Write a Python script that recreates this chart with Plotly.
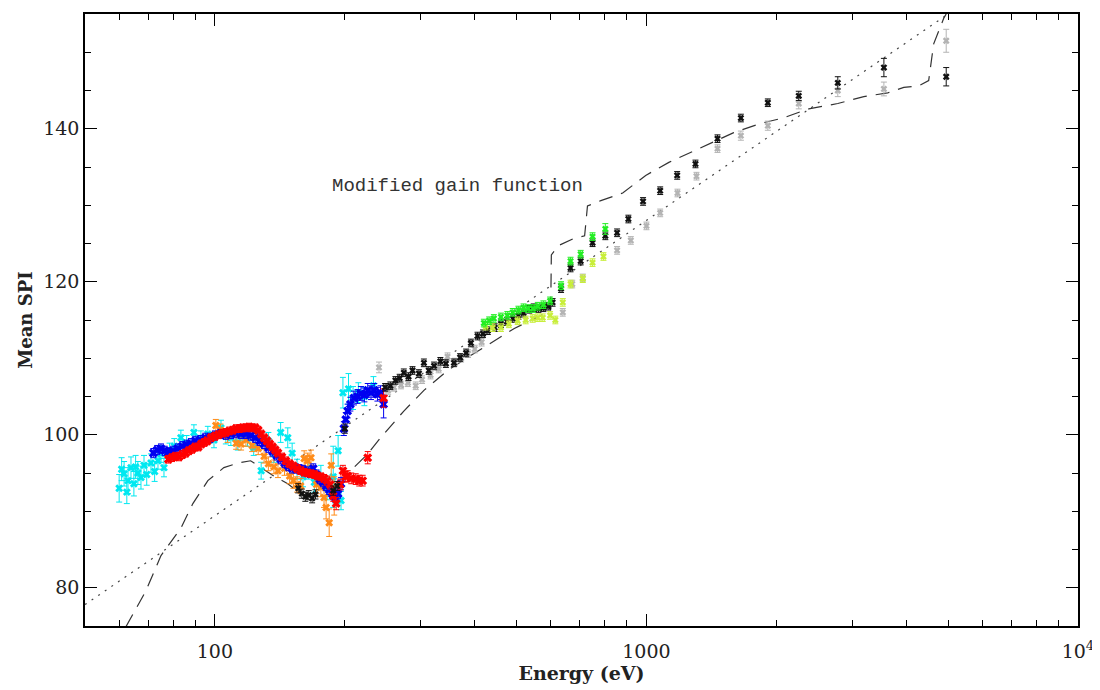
import plotly.graph_objects as go

# ---------------- data ----------------
# dotted reference line (linear in log E)
dot_E = [50, 5000]
dot_SPI = [77.8, 155.0]

# dashed "modified gain function"
gain_E = [62.2, 69.2, 75.0, 83.4, 88.9, 96.3, 104.9, 113, 121, 127.8, 137, 147.5, 158, 174, 191, 203,
          226, 242, 274, 305, 346, 385, 443, 494, 585, 600, 602, 624, 675, 719, 730, 784, 881, 996,
          1127, 1288, 1388, 1593, 1840, 2070, 2378, 2776, 3189, 3624, 3948, 4276, 4508, 4555, 4630,
          4890, 4950]
gain_SPI = [74.9, 79.6, 84.2, 87.8, 91.0, 94.0, 95.7, 96.3, 96.6, 95.7, 94.6, 93.6, 92.3, 91.6, 92.7,
            94.9, 97.5, 99.6, 103.1, 105.8, 108.4, 110.1, 112.3, 113.9, 115.9, 116.4, 123.5, 124.7,
            125.6, 126.0, 129.9, 130.6, 131.6, 133.9, 135.6, 137.1, 138.0, 139.5, 140.7, 141.4, 142.6,
            143.3, 144.2, 144.7, 145.4, 145.6, 146.3, 148.0, 151.1, 154.5, 155.0]

cyan_E = [60.0, 60.8, 61.6, 62.5, 62.9, 63.9, 64.9, 65.5, 66.3, 67.4, 68.5, 69.5, 71.1, 72.5, 73.8,
          75.0, 76.2, 78.5, 80.5, 83.4, 86.0, 89.4, 92.8, 96.3, 99.5, 103.3, 106.0, 108.9, 113.0,
          116.0, 119.0, 123.0, 128.0, 133.0, 137.0, 142.0, 147.5, 151.0, 155.0, 160.0, 165.0, 170.0,
          176.0, 182.0, 188.0, 193.0, 196.0, 198.0, 204.0, 209.0, 215.0, 222.0, 233.0]
cyan_SPI = [93.0, 95.5, 94.9, 92.5, 94.0, 95.7, 93.6, 95.8, 95.0, 94.4, 96.0, 94.8, 96.3, 95.2, 96.6,
            97.5, 95.7, 97.8, 98.5, 99.6, 98.9, 100.3, 99.5, 100.1, 99.3, 100.9, 99.8, 99.6, 99.0,
            100.0, 99.5, 98.3, 95.3, 99.2, 97.5, 100.3, 99.6, 97.6, 95.5, 94.5, 95.5, 93.8, 94.5,
            93.0, 94.5, 97.9, 91.4, 105.5, 106.0, 104.8, 105.5, 105.0, 106.4]
cyan_err = [1.8, 1.5, 1.6, 1.5, 1.7, 1.4, 1.6, 1.5, 1.5, 1.5, 1.3, 1.4, 1.2, 1.3, 1.1, 1.1, 1.2, 1.1,
            1.0, 1.0, 1.0, 1.0, 1.0, 1.0, 1.0, 1.0, 1.0, 1.0, 1.0, 1.0, 1.0, 1.0, 1.1, 1.1, 1.1, 1.3,
            1.3, 1.3, 1.3, 1.3, 1.3, 1.3, 1.5, 1.5, 4.0, 2.0, 1.2, 2.0, 2.0, 1.5, 1.3, 1.2, 1.2]

orange_E = [100.5, 103.0, 107.0, 112.0, 115.0, 118.0, 122.0, 126.0, 130.0, 133.0, 137.0, 140.0, 145.0,
            149.0, 152.0, 155.0, 158.0, 161.0, 164.0, 167.0, 172.0, 176.0, 179.0, 181.0, 184.0, 186.0,
            189.0]
orange_SPI = [101.2, 100.6, 99.8, 98.9, 98.8, 99.3, 98.6, 98.2, 97.2, 96.2, 95.8, 95.3, 95.6, 94.6,
              94.0, 93.5, 93.3, 96.9, 96.6, 97.0, 93.5, 93.1, 91.8, 90.5, 88.5, 96.0, 92.0]
orange_err = [0.8, 0.8, 0.8, 0.8, 0.8, 0.8, 0.8, 0.8, 0.9, 0.9, 0.9, 0.9, 0.9, 1.0, 1.0, 1.0, 1.0, 1.0,
              1.0, 1.0, 1.2, 1.2, 1.3, 1.5, 1.8, 1.5, 2.5]

blue_E = [72.0, 73.5, 75.0, 76.5, 78.0, 80.0, 82.0, 84.0, 86.0, 88.0, 90.0, 92.5, 95.0, 97.5, 100.0,
          103.0, 106.0, 109.0, 112.0, 115.0, 118.0, 121.0, 124.0, 127.0, 130.0, 133.0, 136.0, 139.0,
          142.0, 145.0, 148.0, 151.0, 154.0, 157.0, 160.0, 163.0, 166.0, 169.0, 172.0, 175.0, 178.0,
          181.0, 184.0, 187.0, 190.0, 193.0, 196.0, 199.0, 201.0, 203.0, 206.0, 210.0, 214.0, 218.0,
          222.0, 226.0, 230.0, 234.0, 238.0, 242.0, 246.0]
blue_SPI = [97.6, 98.0, 98.2, 97.9, 97.7, 97.9, 98.2, 98.5, 98.7, 98.9, 99.2, 99.3, 99.6, 99.6, 99.9,
            100.1, 100.0, 100.1, 100.2, 100.1, 100.1, 99.9, 99.6, 99.2, 98.8, 98.3, 97.8, 97.3, 96.8,
            96.3, 95.9, 95.6, 95.6, 95.5, 95.4, 95.2, 95.0, 95.6, 94.8, 94.2, 93.8, 93.3, 92.8, 92.3,
            91.8, 92.3, 93.6, 100.8, 102.0, 103.1, 104.0, 104.8, 105.0, 105.4, 105.2, 105.8, 105.5,
            105.8, 105.3, 105.5, 104.0]
blue_err = [0.6] * 46 + [0.8, 0.9, 0.9, 0.9, 0.9, 0.9, 0.9, 0.9, 0.9, 0.9, 0.9, 0.9, 0.9, 0.9, 1.8]

red_E = [78.0, 79.5, 81.0, 82.5, 84.0, 85.5, 87.0, 88.5, 90.0, 91.5, 93.0, 94.5, 96.0, 98.0, 100.0,
         102.0, 104.0, 106.0, 108.0, 110.0, 112.0, 114.0, 116.0, 118.0, 120.0, 122.0, 124.0, 126.0,
         128.0, 130.0, 132.0, 134.0, 136.0, 138.0, 140.0, 143.0, 146.0, 149.0, 152.0, 155.0, 158.0,
         161.0, 164.0, 167.0, 170.0, 173.0, 176.0, 179.0, 182.0, 185.0, 188.0, 191.0, 195.0, 198.0,
         201.0, 203.0, 207.0, 212.0, 216.0, 220.0, 226.0, 246.0]
red_SPI = [96.8, 97.0, 97.2, 97.1, 97.4, 97.6, 97.9, 98.1, 98.4, 98.4, 98.8, 99.0, 99.2, 99.6, 99.8,
           100.0, 100.2, 100.3, 100.5, 100.6, 100.8, 100.8, 100.9, 100.9, 101.0, 100.9, 100.9, 100.6,
           100.1, 99.6, 99.2, 98.8, 98.4, 98.0, 97.6, 97.1, 96.6, 96.2, 95.9, 95.6, 95.3, 95.1, 95.0,
           94.9, 94.8, 94.6, 94.5, 94.3, 94.0, 93.5, 92.0, 91.0, 93.5, 95.3, 94.5, 94.6, 94.3, 94.2,
           94.0, 94.0, 97.0, 104.8]
red_err = [0.5] * 48 + [0.6, 0.6, 0.7, 0.8, 0.7, 0.7, 0.7, 0.7, 0.7, 0.7, 0.7, 0.7, 0.8, 1.2]

gray_E = [240, 252, 260, 270, 280, 292, 302, 316, 330, 346, 360, 372, 386, 400, 415, 640, 673, 712,
          855, 920, 1000, 1076, 1180, 1306, 1461, 1655, 1911, 2254, 2776, 3550, 4950]
gray_SPI = [108.8, 105.8, 106.2, 106.5, 106.8, 106.4, 107.2, 107.8, 108.6, 110.2, 109.5, 110.0, 110.6,
            111.2, 112.1, 116.0, 119.7, 120.5, 124.1, 125.4, 127.3, 129.0, 131.6, 133.8, 137.4, 139.1,
            140.4, 143.3, 145.0, 145.2, 151.5]
gray_err = [0.7, 0.5, 0.5, 0.5, 0.5, 0.5, 0.5, 0.5, 0.5, 0.5, 0.5, 0.5, 0.5, 0.5, 0.5, 0.5, 0.5, 0.5,
            0.5, 0.5, 0.5, 0.5, 0.5, 0.5, 0.5, 0.6, 0.6, 0.7, 0.8, 0.9, 1.5]

black_E = [156, 159, 162, 165, 168, 171, 188, 192, 200, 248, 255, 262, 268, 274, 281, 287, 297, 305,
           313, 322, 333, 343, 358, 370, 382, 392, 406, 418, 429, 445, 460, 475, 490, 505, 519, 535,
           548, 562, 577, 592, 606, 634, 667, 704, 750, 803, 855, 908, 982, 1076, 1178, 1299, 1461,
           1655, 1911, 2254, 2776, 3550, 4950]
black_SPI = [93.0, 92.3, 91.9, 92.1, 91.7, 92.2, 92.7, 93.3, 100.8, 106.2, 106.4, 107.1, 107.4, 108.1,
             107.6, 108.4, 108.0, 109.4, 108.4, 109.0, 109.6, 109.3, 109.4, 110.1, 110.7, 112.0, 112.9,
             113.2, 113.6, 114.0, 114.5, 114.8, 115.2, 115.6, 115.9, 116.4, 116.6, 116.5, 116.6, 116.8,
             117.3, 119.1, 121.8, 122.7, 125.1, 126.0, 126.4, 128.2, 130.5, 131.9, 133.9, 135.4, 138.7,
             141.4, 143.4, 144.3, 146.0, 148.0, 146.8]
black_err = [0.6] * 9 + [0.5] * 46 + [0.6, 0.8, 1.2, 1.2]

green_E = [420, 432, 443, 460, 476, 490, 505, 519, 532, 546, 560, 577, 598, 634, 667, 704, 750, 803]
green_SPI = [114.6, 114.9, 115.2, 115.4, 115.6, 116.0, 116.3, 116.6, 116.5, 116.5, 116.8, 117.0, 117.5,
             119.5, 122.7, 123.6, 125.9, 126.9]
green_err = [0.5] * 17 + [0.7]

ygreen_E = [424, 440, 460, 480, 503, 525, 545, 560, 575, 598, 615, 640, 667, 712, 750, 795]
ygreen_SPI = [114.2, 114.0, 114.0, 114.5, 114.9, 115.0, 115.2, 115.3, 115.3, 115.6, 115.0, 117.3, 119.7,
              120.4, 122.5, 123.3]
ygreen_err = [0.5] * 16

x_tickvals = [100, 1000, 10000]
x_ticktext = ["100", "1000", "10<sup>4</sup>"]
y_tickvals = [80, 100, 120, 140]

# ---------------- figure ----------------
fig = go.Figure()

fig.add_trace(go.Scatter(x=dot_E, y=dot_SPI, mode="lines",
                         line=dict(color="#444444", width=1.2, dash="2px,6px"), hoverinfo="skip"))
fig.add_trace(go.Scatter(x=gain_E, y=gain_SPI, mode="lines",
                         line=dict(color="#333333", width=1.2, dash="14px,9px"), hoverinfo="skip"))

series = [
    (cyan_E, cyan_SPI, cyan_err, "#00E8F0", 7),
    (orange_E, orange_SPI, orange_err, "#FF8C1A", 7),
    (blue_E, blue_SPI, blue_err, "#0000F0", 8),
    (red_E, red_SPI, red_err, "#FF0000", 8),
    (gray_E, gray_SPI, gray_err, "#B4B4B4", 6),
    (black_E, black_SPI, black_err, "#111111", 6),
    (ygreen_E, ygreen_SPI, ygreen_err, "#C8EE3A", 6),
    (green_E, green_SPI, green_err, "#22EE22", 6),
]
for ex, ey, ee, col, sz in series:
    fig.add_trace(go.Scatter(
        x=ex, y=ey, mode="markers",
        marker=dict(symbol="x", size=sz, color=col, line=dict(width=0)),
        error_y=dict(type="data", array=ee, visible=True, color=col, thickness=1, width=3),
    ))

fig.add_annotation(x=2.561, y=132.5, xref="x", yref="y", text="Modified gain function",
                   showarrow=False, xanchor="center",
                   font=dict(family="Liberation Mono", size=19, color="#333333"))

axis_common = dict(showline=True, linecolor="black", linewidth=1.5, mirror="allticks",
                   ticks="inside", ticklen=12, tickwidth=1.2, tickcolor="black",
                   showgrid=False, zeroline=False,
                   tickfont=dict(family="DejaVu Serif", size=19, color="#222222"))

fig.update_xaxes(type="log", range=[1.69897, 4.0], tickmode="array", tickvals=x_tickvals,
                 ticktext=x_ticktext, ticklabelstandoff=7,
                 minor=dict(ticks="inside", ticklen=6, tickwidth=1, tickcolor="black", dtick="D1",
                            showgrid=False),
                 title=dict(text="<b>Energy (eV)</b>", standoff=4,
                            font=dict(family="DejaVu Serif", size=19, color="#222222")),
                 **axis_common)
fig.update_yaxes(range=[75, 155], tickmode="array", tickvals=y_tickvals,
                 minor=dict(ticks="inside", ticklen=6, tickwidth=1, tickcolor="black", dtick=5,
                            tick0=0, showgrid=False),
                 title=dict(text="<b>Mean SPI</b>", standoff=6,
                            font=dict(family="DejaVu Serif", size=18, color="#222222")),
                 **axis_common)

# page body adds an 8px offset; margins compensate so the frame lands at the reference position
fig.update_layout(width=1100, height=690, showlegend=False,
                  paper_bgcolor="white", plot_bgcolor="white",
                  margin=dict(l=77, r=30, t=4, b=72))

fig.write_html("out.html")
